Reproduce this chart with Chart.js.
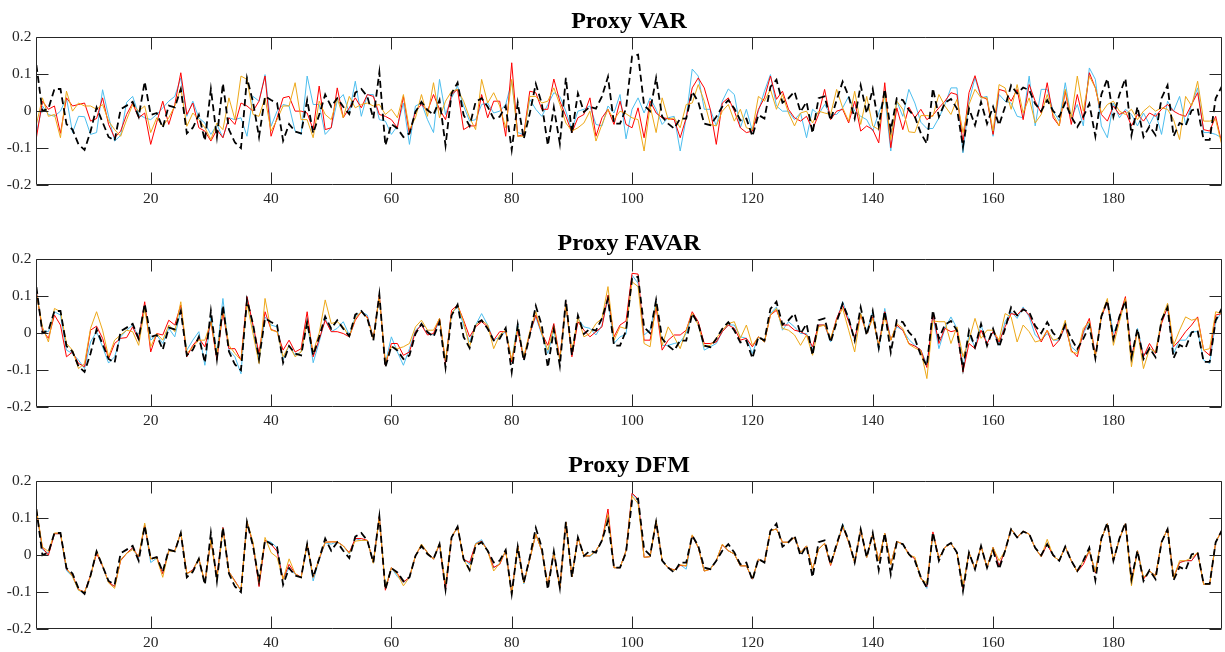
<!DOCTYPE html>
<html><head><meta charset="utf-8">
<script src="https://cdn.jsdelivr.net/npm/chart.js@4"></script>
<style>
html,body{margin:0;padding:0;background:#fff;overflow:hidden;}
#wrap{position:relative;width:1225px;height:652px;overflow:hidden;background:#fff;}
canvas{position:absolute;left:0;}
</style></head><body>
<div id="wrap">
<canvas id="c0" width="1225" height="222" style="top:0px"></canvas>
<canvas id="c1" width="1225" height="222" style="top:222px"></canvas>
<canvas id="c2" width="1225" height="222" style="top:444px"></canvas>
</div>
<script>
const panelTitles = ['Proxy VAR', 'Proxy FAVAR', 'Proxy DFM'];
const xTicks = [20, 40, 60, 80, 100, 120, 140, 160, 180];
const xTickLabels = ['20', '40', '60', '80', '100', '120', '140', '160', '180'];
const yTicks = [-0.2, -0.1, 0, 0.1, 0.2];
const yTickLabels = ['-0.2', '-0.1', '0', '0.1', '0.2'];

// black dashed series (same in every panel)
const truth = [
 0.125,0.0,0.007,0.06,0.06,-0.035,-0.05,-0.09,-0.105,-0.055,
 0.01,-0.03,-0.07,-0.08,0.005,0.015,0.025,-0.015,0.08,-0.01,
 -0.005,-0.045,0.015,0.01,0.06,-0.06,-0.045,-0.01,-0.08,0.06,
 -0.07,0.075,-0.05,-0.085,-0.1,0.09,0.025,-0.07,0.04,0.03,
 0.022,-0.08,-0.035,-0.055,-0.06,0.03,-0.06,-0.01,0.045,0.012,
 0.035,0.012,-0.008,0.05,0.06,0.04,-0.02,0.105,-0.093,-0.035,
 -0.047,-0.07,-0.06,-0.002,0.025,0.003,-0.01,0.03,-0.093,0.048,
 0.077,-0.01,-0.04,0.025,0.035,0.012,-0.02,-0.015,0.014,-0.105,
 0.023,-0.075,-0.006,0.074,0.02,-0.093,0.01,-0.088,0.09,-0.06,
 0.048,-0.002,0.012,0.007,0.04,0.093,-0.034,-0.034,0.007,0.148,
 0.153,0.016,0.0,0.09,-0.015,-0.034,-0.047,-0.02,-0.02,0.053,
 0.025,-0.034,-0.038,-0.015,0.012,0.03,0.007,-0.025,-0.02,-0.068,
 -0.01,-0.02,0.066,0.085,0.023,0.035,0.053,-0.002,0.025,-0.06,
 0.035,0.04,-0.025,0.03,0.08,0.04,-0.02,0.07,-0.006,0.06,
 -0.04,0.06,-0.052,0.035,0.03,0.003,-0.015,-0.06,-0.088,0.062,
 -0.015,0.023,0.033,0.007,-0.097,0.007,-0.038,0.025,-0.034,0.012,
 -0.038,0.012,0.07,0.048,0.064,0.057,0.02,0.0,0.03,0.0,
 -0.015,0.023,-0.015,-0.043,-0.015,0.02,-0.068,0.045,0.088,-0.015,
 0.045,0.088,-0.065,0.012,-0.07,-0.041,-0.065,0.035,0.07,-0.068,
 -0.032,-0.04,0.002,0.007,-0.078,-0.078,0.035,0.066];

// Proxy VAR
const varRed = [
 -0.072,0.027,0.005,0.014,-0.06,0.036,0.014,0.018,0.022,-0.027,
 -0.02,0.036,-0.036,-0.072,-0.054,-0.009,0.022,-0.018,-0.005,-0.09,
 -0.03,0.027,-0.036,0.018,0.104,-0.009,0.022,-0.045,-0.054,-0.081,
 -0.05,-0.072,-0.018,-0.036,0.022,0.014,0,0.027,0.095,-0.068,
 -0.018,0.036,0.04,0,0,-0.005,-0.05,0.068,-0.05,-0.045,
 0.063,-0.018,0.009,0.036,0.009,0.045,0.04,-0.009,-0.014,-0.023,
 -0.045,0.04,-0.063,0,0.018,0,0.045,0.005,-0.023,0.045,
 0.059,-0.05,-0.04,-0.04,0.045,-0.018,0.027,0.027,-0.068,0.131,
 -0.068,-0.063,0.054,0.05,0.005,0.005,0.087,0.027,-0.014,-0.058,
 -0.018,-0.009,0.036,-0.068,-0.018,0.005,-0.036,0.027,-0.036,-0.045,
 0.009,-0.072,0.027,-0.005,-0.018,-0.02,-0.023,-0.072,-0.018,0.063,
 0.09,0.063,0.005,-0.09,0.022,0.036,0,-0.045,-0.058,-0.054,
 0.005,0.036,0.095,0.032,0.054,0.005,-0.018,-0.027,-0.014,-0.05,
 -0.009,0.059,-0.023,0,0.005,-0.032,0.027,-0.054,-0.04,-0.05,
 -0.086,0.077,-0.099,0.009,-0.05,0.011,-0.018,0.005,-0.023,-0.011,
 0.009,0.027,0.05,0.045,-0.086,0.05,0.096,0.04,0.032,-0.063,
 0.059,0.054,0.027,0.059,-0.023,0.072,0.027,-0.005,0.077,-0.018,
 -0.04,0.054,-0.036,0.045,-0.023,0.104,0.063,-0.009,-0.027,0.014,
 -0.009,0,-0.04,-0.009,-0.027,-0.005,-0.014,0.005,0.018,0,
 -0.009,-0.014,0.018,0.05,-0.05,-0.054,-0.014,-0.086];
const varCyan = [
 -0.058,0.014,-0.009,-0.014,0,0.036,-0.058,-0.014,-0.015,-0.063,
 -0.058,0.058,-0.014,-0.081,-0.066,0.024,0.04,-0.009,-0.018,-0.023,
 -0.009,0.009,0.027,0.04,0.09,-0.014,0.027,-0.018,-0.032,-0.063,
 -0.036,-0.072,-0.018,-0.023,-0.018,-0.068,0.04,0.027,0.099,-0.041,
 0,0.018,0.014,-0.054,-0.063,0.095,0.018,0.018,-0.063,-0.045,
 0.027,0.045,-0.005,0.081,-0.014,0.045,0.045,-0.023,-0.027,-0.063,
 -0.04,0.022,-0.09,0.014,0.022,-0.023,-0.058,0.086,-0.009,0.036,
 0.068,0.014,-0.027,-0.023,0.018,0.022,-0.005,0,0.018,0.081,
 -0.058,-0.063,0.032,0.005,-0.014,0.018,0.05,0.04,0,-0.05,
 0,0.005,0.014,-0.036,-0.04,0.014,-0.005,0.045,-0.075,0.005,
 0.036,-0.005,0.036,0.005,-0.036,-0.018,-0.014,-0.108,-0.018,0.114,
 0.095,0.005,0.005,-0.04,0.027,0.06,0.045,-0.045,0.005,-0.054,
 0,0.054,0.099,0.014,0,0,-0.023,-0.005,-0.072,0.005,
 -0.009,0.018,-0.009,-0.009,0.009,0.04,0,-0.014,-0.023,-0.054,
 -0.005,0.04,-0.108,0.027,-0.014,0.059,0.022,-0.03,-0.047,-0.047,
 -0.018,0.018,0.063,0.063,-0.113,0.027,0.09,0.036,0.04,-0.068,
 0.045,0.027,0.022,-0.014,-0.018,0.095,-0.04,0.059,0.059,0,
 -0.027,0.077,-0.018,0.018,-0.04,0.117,0.086,-0.04,-0.072,0.022,
 -0.018,0.005,-0.009,-0.04,-0.005,-0.036,-0.005,-0.063,0.027,0,
 0.04,-0.036,0.018,0.063,-0.058,-0.058,-0.063,-0.072];
const varOrange = [
 -0.036,0.036,-0.014,-0.009,-0.072,0.054,0,0.022,0.014,0.014,
 0.005,0.018,-0.027,-0.05,-0.068,-0.023,0.018,0,0.014,-0.058,
 -0.018,-0.041,-0.018,0.014,0.063,-0.041,-0.005,-0.023,-0.045,-0.077,
 -0.032,-0.05,0.036,-0.023,0.095,0.086,-0.009,-0.014,0.036,-0.054,
 -0.023,0.014,0.014,0.077,-0.023,-0.023,-0.072,0.027,-0.009,-0.023,
 0.036,-0.018,0.04,0.009,0.018,0.022,0.014,0.018,-0.009,0.005,
 -0.018,0.045,-0.05,-0.018,0.045,-0.014,0.077,-0.018,0.027,0.054,
 0.059,0.027,-0.018,-0.05,0.086,0.022,0.05,0.014,-0.045,0.086,
 -0.068,-0.068,0.04,0.04,0.022,0.027,0.063,0.018,-0.032,-0.054,
 -0.045,-0.032,0,-0.081,-0.036,0.005,-0.023,0,-0.007,-0.018,
 -0.023,-0.108,0.014,-0.058,0.036,-0.023,-0.018,-0.045,0.018,0.022,
 0.072,0.027,-0.036,-0.04,0,0.018,-0.027,0.005,-0.045,-0.05,
 0.04,0.027,0.059,0.005,0.045,-0.005,-0.04,-0.005,0,-0.032,
 0,-0.005,-0.009,0.059,0.009,-0.027,0.054,-0.036,0.04,-0.04,
 -0.05,0.05,-0.077,0.027,0.005,-0.056,-0.058,-0.012,-0.012,-0.014,
 0.045,0.014,-0.009,0.032,-0.058,0.018,0.059,0.036,0.036,-0.054,
 0.072,0.063,0.005,0.072,-0.005,0.036,-0.032,-0.009,0.045,-0.009,
 -0.04,0.059,-0.018,0.095,0,0.095,0.063,-0.005,0.018,0.027,
 0,-0.009,0.005,-0.023,0,0.014,0,0.009,0.005,-0.023,
 -0.077,0.04,0.014,0.081,-0.027,-0.027,-0.023,-0.09];

// Proxy FAVAR
const favarRed = [
 0.112,0.008,-0.014,0.049,0.022,-0.064,-0.051,-0.082,-0.091,0.008,
 0.019,-0.014,-0.069,-0.028,-0.014,-0.012,0.017,-0.019,0.085,-0.051,
 -0.001,-0.005,0.035,0.022,0.076,-0.064,-0.033,-0.014,-0.037,0.031,
 -0.073,0.058,-0.042,-0.042,-0.073,0.099,0.022,-0.055,0.058,0.01,
 0.004,-0.046,-0.019,-0.051,-0.042,0.058,-0.064,-0.017,0.035,0.004,
 0.004,-0.001,-0.01,0.035,0.058,0.044,-0.014,0.103,-0.087,-0.028,
 -0.028,-0.06,-0.051,0.004,0.022,-0.005,-0.001,0.04,-0.082,0.062,
 0.076,0.035,-0.01,0.017,0.031,0.017,-0.019,0.004,0.004,-0.078,
 0.008,-0.069,-0.001,0.049,-0.001,-0.033,0.026,-0.069,0.081,-0.064,
 0.031,0.008,-0.01,0.004,0.017,0.103,-0.01,0.022,0.033,0.162,
 0.16,-0.019,-0.019,0.071,-0.046,-0.019,-0.005,-0.005,0.008,0.058,
 0.031,-0.028,-0.028,-0.024,0.004,0.022,0.013,-0.019,-0.014,-0.037,
 -0.01,-0.024,0.049,0.062,0.022,0.022,0.008,0.004,-0.005,-0.037,
 0.022,0.022,-0.019,0.04,0.076,0.031,-0.014,0.049,-0.001,0.044,
 -0.033,0.058,-0.019,0.022,0.008,-0.028,-0.035,-0.046,-0.093,0.053,
 -0.028,0.013,0.004,0.008,-0.105,-0.028,-0.042,0.008,-0.028,0.004,
 -0.024,0.017,0.053,0.049,0.067,0.049,0.013,-0.024,0.008,-0.037,
 -0.019,0.022,-0.046,-0.064,0.004,0.04,-0.06,0.044,0.085,-0.019,
 0.044,0.099,-0.064,0.004,-0.064,-0.028,-0.055,0.026,0.071,-0.037,
 -0.019,0.004,0.022,0.044,-0.046,-0.06,0.049,0.053];
const favarCyan = [
 0.112,0.008,0.004,0.058,0.049,-0.046,-0.055,-0.073,-0.096,-0.024,
 0.004,-0.037,-0.081,-0.064,-0.01,0.008,0.022,-0.01,0.067,-0.019,
 -0.005,-0.028,0.013,-0.01,0.062,-0.046,-0.019,0.004,-0.087,0.044,
 -0.055,0.094,-0.046,-0.064,-0.11,0.099,0.013,-0.073,0.044,0.022,
 0.017,-0.073,-0.033,-0.06,-0.051,0.031,-0.08,-0.024,0.04,0.004,
 0.013,0.031,-0.005,0.044,0.058,0.049,-0.014,0.099,-0.082,-0.01,
 -0.051,-0.087,-0.042,0.008,0.022,-0.001,-0.005,0.035,-0.078,0.053,
 0.071,0.022,-0.024,0.022,0.053,0.022,-0.019,-0.01,0.004,-0.073,
 0.026,-0.073,-0.001,0.044,-0.005,-0.055,0.008,-0.073,0.076,-0.055,
 0.04,0.017,0.013,-0.005,0.022,0.094,-0.028,-0.01,-0.003,0.157,
 0.135,-0.005,0.008,0.085,-0.033,-0.033,-0.028,-0.024,-0.001,0.049,
 0.026,-0.046,-0.037,-0.028,0.004,0.022,0.022,-0.01,-0.014,-0.055,
 -0.01,-0.024,0.053,0.071,0.008,0.031,0.017,-0.001,-0.001,-0.046,
 0.022,0.022,-0.024,0.035,0.085,0.04,-0.019,0.053,0.004,0.058,
 -0.046,0.067,-0.019,0.017,0.008,-0.017,-0.033,-0.046,-0.085,0.047,
 -0.042,0.013,0.044,0.013,-0.091,-0.005,-0.037,0.022,-0.028,0.004,
 -0.033,0.031,0.058,0.04,0.071,0.044,-0.005,-0.019,-0.001,-0.019,
 -0.019,0.017,-0.037,-0.051,-0.001,0.031,-0.06,0.044,0.09,-0.001,
 0.04,0.09,-0.073,0.013,-0.06,-0.042,-0.051,0.035,0.067,-0.055,
 -0.019,-0.019,0.004,0.004,-0.073,-0.082,0.031,0.058];
const favarOrange = [
 0.108,0.017,-0.024,0.067,0.058,-0.028,-0.046,-0.096,-0.082,0.013,
 0.058,0.008,-0.064,-0.019,-0.005,0.008,0.004,-0.033,0.067,-0.037,
 -0.001,-0.019,0.022,0.004,0.085,-0.055,-0.037,-0.019,-0.019,0.031,
 -0.06,0.067,-0.033,-0.055,-0.073,0.081,-0.001,-0.082,0.094,0.008,
 0.004,-0.064,-0.033,-0.064,-0.051,0.031,-0.051,0.0,0.09,0.026,
 0.031,0.017,-0.01,0.04,0.058,0.04,-0.014,0.099,-0.078,-0.037,
 -0.042,-0.037,-0.028,0.017,0.035,0.008,0.008,0.04,-0.073,0.053,
 0.076,0.031,-0.037,0.022,0.035,0.022,-0.042,-0.005,0.008,-0.073,
 0.017,-0.064,0.004,0.058,-0.001,-0.046,0.017,-0.073,0.076,-0.051,
 0.044,-0.01,-0.001,0.026,0.04,0.126,-0.019,0.017,0.012,0.139,
 0.126,-0.028,-0.037,0.081,-0.033,0.017,-0.01,-0.042,0.008,0.053,
 0.022,-0.037,-0.033,-0.014,0.008,0.026,0.031,-0.014,0.022,-0.033,
 -0.01,-0.024,0.049,0.067,0.013,0.008,-0.005,-0.033,-0.005,-0.06,
 0.017,0.022,-0.014,0.035,0.067,0.008,-0.051,0.053,-0.001,0.04,
 -0.033,0.044,-0.019,0.026,0.013,-0.03,-0.04,-0.048,-0.123,0.033,
 0.031,0.031,-0.028,0.017,-0.064,-0.019,0.04,-0.014,0.008,0.008,
 -0.019,0.053,0.044,-0.024,0.022,0.004,-0.024,-0.019,0.008,-0.019,
 -0.014,0.035,-0.051,-0.055,0.013,0.031,-0.064,0.049,0.094,-0.033,
 0.031,0.094,-0.091,0.008,-0.096,-0.042,-0.051,0.035,0.081,-0.033,
 0.008,0.044,0.035,0.04,-0.046,-0.042,0.058,0.053];

// Proxy DFM
const dfmRed = [
 0.12,0.02,0.0,0.058,0.058,-0.038,-0.055,-0.093,-0.1,-0.055,
 0.005,-0.03,-0.073,-0.085,-0.015,0.005,0.02,-0.005,0.08,-0.01,
 -0.005,-0.05,0.012,0.012,0.06,-0.05,-0.04,-0.01,-0.075,0.04,
 -0.06,0.075,-0.045,-0.07,-0.095,0.09,0.03,-0.085,0.04,0.03,
 0.01,-0.065,-0.025,-0.05,-0.06,0.03,-0.06,-0.01,0.035,0.036,
 0.036,0.025,0.007,0.045,0.045,0.04,-0.02,0.105,-0.095,-0.034,
 -0.05,-0.073,-0.06,-0.002,0.028,0.007,-0.011,0.03,-0.093,0.048,
 0.077,-0.011,-0.02,0.03,0.038,0.012,-0.033,-0.025,0.012,-0.103,
 0.025,-0.075,-0.011,0.057,0.012,-0.08,0.007,-0.088,0.089,-0.059,
 0.048,-0.002,-0.002,0.012,0.039,0.125,-0.034,-0.034,0.012,0.168,
 0.152,-0.006,-0.004,0.092,-0.015,-0.034,-0.04,-0.028,-0.029,0.053,
 0.021,-0.043,-0.038,-0.015,0.028,0.012,0.003,-0.029,-0.029,-0.065,
 -0.011,-0.02,0.066,0.071,0.035,0.035,0.048,0.007,0.025,-0.038,
 0.016,0.032,-0.028,0.025,0.078,0.035,-0.02,0.068,-0.006,0.057,
 -0.015,0.059,-0.025,0.037,0.03,0.003,-0.01,-0.062,-0.085,0.063,
 -0.008,0.021,0.032,0.007,-0.09,0.007,-0.038,0.025,-0.034,0.021,
 -0.029,0.012,0.071,0.048,0.065,0.057,0.019,-0.004,0.03,-0.002,
 -0.015,0.023,-0.015,-0.045,-0.025,0.012,-0.048,0.044,0.085,-0.015,
 0.044,0.085,-0.07,0.012,-0.065,-0.043,-0.056,0.035,0.071,-0.061,
 -0.02,-0.015,-0.015,0.007,-0.079,-0.079,0.035,0.066];
const dfmCyan = [
 0.12,0.015,0.005,0.058,0.058,-0.042,-0.058,-0.095,-0.103,-0.055,
 0.008,-0.03,-0.075,-0.085,-0.013,0.005,0.018,-0.008,0.083,-0.02,
 -0.008,-0.05,0.012,0.01,0.06,-0.05,-0.04,-0.01,-0.075,0.04,
 -0.065,0.075,-0.045,-0.07,-0.097,0.09,0.033,-0.08,0.04,0.035,
 0.02,-0.065,-0.035,-0.052,-0.06,0.03,-0.07,-0.012,0.033,0.03,
 0.036,0.025,0.003,0.045,0.04,0.04,-0.02,0.105,-0.09,-0.034,
 -0.058,-0.075,-0.06,-0.002,0.028,0.007,-0.011,0.03,-0.09,0.048,
 0.077,-0.011,-0.025,0.032,0.042,0.012,-0.035,-0.022,0.012,-0.106,
 0.025,-0.078,-0.011,0.057,0.012,-0.085,0.01,-0.088,0.089,-0.059,
 0.048,-0.002,-0.004,0.01,0.039,0.11,-0.034,-0.034,0.012,0.165,
 0.148,-0.006,-0.004,0.094,-0.015,-0.034,-0.041,-0.026,-0.038,0.053,
 0.021,-0.043,-0.035,-0.015,0.028,0.012,0.003,-0.029,-0.029,-0.065,
 -0.011,-0.02,0.066,0.071,0.035,0.035,0.048,0.007,0.025,-0.038,
 0.016,0.032,-0.025,0.025,0.085,0.035,-0.02,0.068,-0.006,0.057,
 -0.015,0.059,-0.025,0.037,0.03,0.003,-0.01,-0.06,-0.09,0.057,
 -0.008,0.021,0.032,0.007,-0.087,0.007,-0.038,0.025,-0.034,0.021,
 -0.029,0.012,0.071,0.048,0.065,0.057,0.019,-0.004,0.03,-0.002,
 -0.015,0.023,-0.015,-0.045,-0.015,0.012,-0.043,0.044,0.085,-0.015,
 0.044,0.085,-0.07,0.012,-0.061,-0.043,-0.056,0.035,0.071,-0.061,
 -0.02,-0.015,-0.015,0.007,-0.079,-0.079,0.035,0.066];
const dfmOrange = [
 0.125,0.022,0.01,0.06,0.06,-0.035,-0.058,-0.095,-0.1,-0.058,
 0.012,-0.028,-0.075,-0.09,-0.013,0.005,0.015,-0.003,0.087,-0.01,
 -0.008,-0.06,0.012,0.01,0.062,-0.05,-0.043,-0.008,-0.075,0.04,
 -0.065,0.072,-0.045,-0.072,-0.095,0.092,0.035,-0.075,0.048,0.007,
 -0.006,-0.065,-0.01,-0.05,-0.062,0.03,-0.06,-0.008,0.035,0.036,
 0.036,0.025,0.005,0.038,0.04,0.04,-0.022,0.103,-0.088,-0.034,
 -0.052,-0.083,-0.06,-0.002,0.03,0.007,-0.011,0.032,-0.08,0.048,
 0.077,-0.011,-0.043,0.03,0.036,0.012,-0.043,-0.022,0.012,-0.107,
 0.025,-0.075,-0.011,0.057,0.012,-0.082,0.007,-0.088,0.089,-0.059,
 0.048,-0.002,-0.002,0.012,0.039,0.11,-0.034,-0.034,0.012,0.16,
 0.14,-0.006,-0.004,0.095,-0.015,-0.034,-0.041,-0.026,-0.029,0.055,
 0.021,-0.043,-0.038,-0.015,0.03,0.012,0.003,-0.029,-0.029,-0.063,
 -0.011,-0.02,0.066,0.071,0.035,0.035,0.048,0.007,0.025,-0.038,
 0.016,0.032,-0.025,0.025,0.08,0.035,-0.02,0.07,-0.006,0.057,
 -0.015,0.059,-0.025,0.037,0.03,0.0,-0.005,-0.065,-0.075,0.057,
 -0.008,0.021,0.032,0.007,-0.084,0.007,-0.038,0.025,-0.034,0.021,
 -0.015,0.012,0.071,0.048,0.065,0.057,0.019,-0.004,0.043,-0.002,
 -0.015,0.023,-0.015,-0.045,-0.015,0.012,-0.045,0.044,0.085,-0.015,
 0.044,0.085,-0.083,0.012,-0.061,-0.043,-0.056,0.035,0.071,-0.061,
 -0.015,-0.015,-0.007,0.007,-0.079,-0.079,0.035,0.066];

const COLORS = { black: '#000000', red: '#FF0000', cyan: '#4DBEEE', orange: '#EDA819' };
const AXIS_COLOR = '#262626';
const FONT = '"Liberation Serif", "Times New Roman", serif';

function toPts(arr) { return arr.map((v, i) => ({ x: i + 1, y: v })); }

const framePlugin = {
  id: 'matlabFrame',
  afterDraw(chart) {
    const { ctx, chartArea: a, scales } = chart;
    ctx.save();
    ctx.strokeStyle = AXIS_COLOR;
    ctx.lineWidth = 1;
    const L = Math.round(a.left) + 0.5, R = Math.round(a.right) - 0.5;
    const T = Math.round(a.top) + 0.5, B = Math.round(a.bottom) - 0.5;
    const tl = 12;
    ctx.beginPath();
    ctx.rect(L, T, R - L, B - T);
    xTicks.forEach(v => {
      const px = Math.round(scales.x.getPixelForValue(v)) + 0.5;
      ctx.moveTo(px, B); ctx.lineTo(px, B - tl);
      ctx.moveTo(px, T); ctx.lineTo(px, T + tl);
    });
    yTicks.forEach(v => {
      const py = Math.round(scales.y.getPixelForValue(v)) + 0.5;
      ctx.moveTo(L, py); ctx.lineTo(L + tl, py);
      ctx.moveTo(R, py); ctx.lineTo(R - tl, py);
    });
    ctx.stroke();
    ctx.restore();
  }
};

function makePanel(id, title, red, cyan, orange) {
  const n = truth.length;
  return new Chart(document.getElementById(id), {
    type: 'line',
    data: {
      datasets: [
        { data: toPts(truth), borderColor: COLORS.black, borderWidth: 1.8, borderDash: [7, 4], order: 0 },
        { data: toPts(orange), borderColor: COLORS.orange, borderWidth: 1, order: 1 },
        { data: toPts(red), borderColor: COLORS.red, borderWidth: 1, order: 2 },
        { data: toPts(cyan), borderColor: COLORS.cyan, borderWidth: 1, order: 3 }
      ]
    },
    options: {
      responsive: false,
      animation: false,
      devicePixelRatio: 1,
      layout: { padding: { top: 0, left: 0, right: 3.3, bottom: 0 } },
      elements: { point: { radius: 0 }, line: { tension: 0, fill: false } },
      plugins: {
        legend: { display: false },
        tooltip: { enabled: false },
        title: {
          display: true, text: title, color: '#000', fullSize: false,
          font: { family: FONT, size: 24, weight: 'bold', lineHeight: 1.2 },
          padding: { top: 7, bottom: 1.5 }
        }
      },
      scales: {
        x: {
          type: 'linear', min: 1, max: n,
          grid: { display: false, drawTicks: false, tickLength: 0 }, border: { display: false },
          afterBuildTicks: s => { s.ticks = xTicks.map(v => ({ value: v })); },
          afterFit: s => { s.height = 37; },
          ticks: {
            color: AXIS_COLOR, font: { family: FONT, size: 15.5 }, padding: 5,
            maxRotation: 0, autoSkip: false,
            callback: (v, i) => xTickLabels[i]
          }
        },
        y: {
          type: 'linear', min: -0.2, max: 0.2,
          grid: { display: false, drawTicks: false, tickLength: 0 }, border: { display: false },
          afterBuildTicks: s => { s.ticks = yTicks.map(v => ({ value: v })); },
          afterFit: s => { s.width = 36.4; },
          ticks: {
            color: AXIS_COLOR, font: { family: FONT, size: 15.5 }, padding: 5,
            autoSkip: false,
            callback: (v, i) => yTickLabels[i]
          }
        }
      }
    },
    plugins: [framePlugin]
  });
}

makePanel('c0', panelTitles[0], varRed, varCyan, varOrange);
makePanel('c1', panelTitles[1], favarRed, favarCyan, favarOrange);
makePanel('c2', panelTitles[2], dfmRed, dfmCyan, dfmOrange);
</script>
</body></html>
